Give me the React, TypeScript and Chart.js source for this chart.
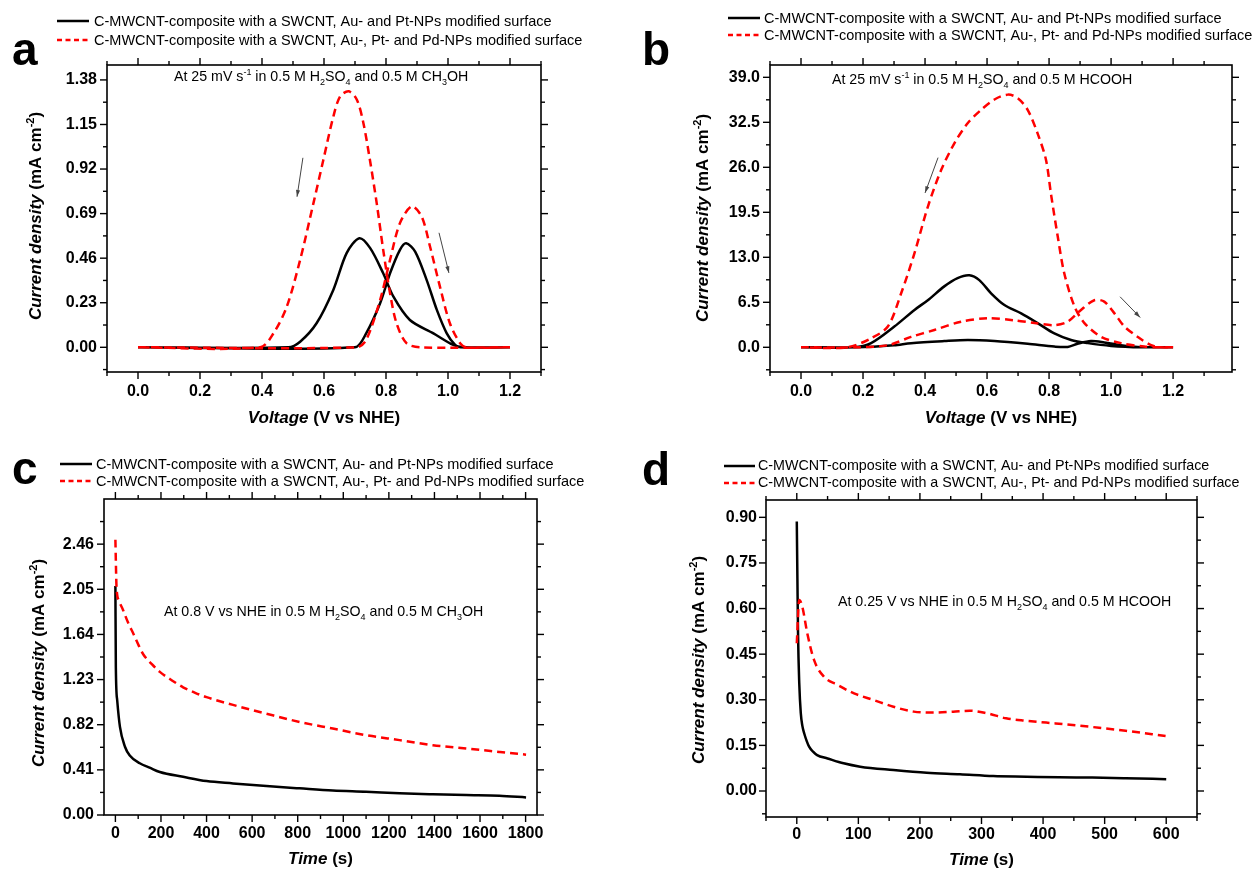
import React, { useEffect, useRef } from "react";
import { Chart, registerables } from "chart.js";
Chart.register(...registerables);

const FONT = '"Liberation Sans", Arial, Helvetica, sans-serif';
const RED = "#ff0000";
const BLACK = "#000000";

// ---------------- Panel a (CV, methanol) ----------------
const A_X_TICKS = [0, 0.2, 0.4, 0.6, 0.8, 1.0, 1.2];
const A_Y_TICKS = [0, 0.23, 0.46, 0.69, 0.92, 1.15, 1.38];
const A_BLACK_X = [0, 0.70, 0.736, 0.781, 0.813, 0.845, 0.865, 0.894, 0.931, 0.964, 0.996, 1.023, 1.04, 1.2,
  1.2, 1.05, 1.017, 0.953, 0.877, 0.824, 0.791, 0.749, 0.714, 0.673, 0.63, 0.576, 0.523, 0.485, 0];
const A_BLACK_Y = [0, 0, 0.072, 0.227, 0.382, 0.503, 0.537, 0.494, 0.348, 0.193, 0.072, 0.012, 0, 0,
  0, 0, 0.012, 0.072, 0.141, 0.261, 0.382, 0.512, 0.563, 0.486, 0.296, 0.124, 0.029, 0, 0];
const A_RED_X = [0, 0.706, 0.736, 0.781, 0.813, 0.845, 0.883, 0.915, 0.942, 0.974, 1.006, 1.039, 1.06, 1.2,
  1.2, 0.91, 0.866, 0.834, 0.813, 0.791, 0.770, 0.748, 0.727, 0.706, 0.680, 0.652, 0.63, 0.598, 0.566, 0.523, 0.48, 0.437, 0.394, 0];
const A_RED_Y = [0, 0, 0.038, 0.244, 0.451, 0.641, 0.727, 0.675, 0.520, 0.313, 0.124, 0.021, 0, 0,
  0, 0, 0.021, 0.124, 0.279, 0.503, 0.744, 0.968, 1.158, 1.278, 1.321, 1.295, 1.19, 0.968, 0.744, 0.451, 0.21, 0.072, 0, 0];

// ---------------- Panel b (CV, formic acid) ----------------
const B_X_TICKS = [0, 0.2, 0.4, 0.6, 0.8, 1.0, 1.2];
const B_Y_TICKS = [0, 6.5, 13.0, 19.5, 26.0, 32.5, 39.0];
const B_BLACK_X = [0, 0.18, 0.30, 0.355, 0.462, 0.538, 0.624, 0.731, 0.817, 0.860, 0.892, 0.935, 0.978, 1.032, 1.086, 1.2,
  1.2, 1.1, 1.0, 0.925, 0.871, 0.817, 0.763, 0.710, 0.656, 0.613, 0.575, 0.543, 0.505, 0.462, 0.409, 0.366, 0.301, 0.226, 0.17, 0];
const B_BLACK_Y = [0, 0, 0.3, 0.6, 0.9, 1.05, 0.9, 0.5, 0.1, 0.05, 0.5, 0.9, 0.7, 0.3, 0.05, 0,
  0, 0, 0.2, 0.6, 1.05, 2.0, 3.5, 4.9, 6.1, 7.8, 9.7, 10.4, 10.0, 8.8, 6.8, 5.4, 3.0, 0.6, 0, 0];
const B_RED_X = [0, 0.18, 0.28, 0.355, 0.430, 0.516, 0.602, 0.688, 0.753, 0.817, 0.860, 0.903, 0.946, 0.978, 1.011, 1.043, 1.086, 1.129, 1.16, 1.2,
  1.2, 1.15, 1.107, 1.032, 0.968, 0.914, 0.882, 0.849, 0.828, 0.806, 0.790, 0.763, 0.731, 0.699, 0.667, 0.624, 0.581, 0.538, 0.495, 0.452, 0.409, 0.366, 0.323, 0.28, 0.226, 0.15, 0];
const B_RED_Y = [0, 0, 0.3, 1.5, 2.5, 3.7, 4.2, 3.9, 3.5, 3.2, 3.7, 5.4, 6.8, 6.6, 4.9, 3.0, 1.5, 0.3, 0, 0,
  0, 0, 0.1, 0.6, 1.5, 3.5, 5.9, 10.7, 16.0, 22.2, 27.1, 30.9, 34.3, 36.0, 36.5, 35.8, 34.3, 32.4, 29.5, 25.6, 20.3, 13.6, 7.8, 3.0, 1.3, 0, 0];

// ---------------- Panel c (chronoamperometry, methanol) ----------------
const C_X_TICKS = [0, 200, 400, 600, 800, 1000, 1200, 1400, 1600, 1800];
const C_Y_TICKS = [0, 0.41, 0.82, 1.23, 1.64, 2.05, 2.46];
const C_BLACK_T = [0, 2, 8, 20, 42, 63, 107, 150, 195, 297, 400, 516, 663, 808, 954, 1100, 1247, 1393, 1539, 1685, 1802];
const C_BLACK_J = [2.08, 1.34, 1.04, 0.80, 0.62, 0.54, 0.47, 0.43, 0.39, 0.347, 0.308, 0.287, 0.263, 0.242, 0.222, 0.211, 0.197, 0.188, 0.181, 0.175, 0.160];
const C_RED_T = [0, 5, 15, 34, 55, 78, 100, 122, 160, 195, 250, 297, 350, 400, 516, 663, 808, 954, 1100, 1247, 1393, 1539, 1685, 1802];
const C_RED_J = [2.50, 2.07, 1.95, 1.86, 1.75, 1.65, 1.55, 1.46, 1.37, 1.30, 1.22, 1.16, 1.11, 1.07, 1.0, 0.92, 0.845, 0.785, 0.725, 0.68, 0.634, 0.604, 0.573, 0.548];

// ---------------- Panel d (chronoamperometry, formic acid) ----------------
const D_X_TICKS = [0, 100, 200, 300, 400, 500, 600];
const D_Y_TICKS = [0, 0.15, 0.30, 0.45, 0.60, 0.75, 0.90];
const D_BLACK_T = [0, 1, 2, 4, 6.5, 9, 12, 16, 20, 26, 33, 50, 76, 103, 157, 211, 265, 319, 373, 426, 480, 534, 600];
const D_BLACK_J = [0.886, 0.70, 0.52, 0.355, 0.256, 0.215, 0.19, 0.165, 0.146, 0.13, 0.118, 0.107, 0.091, 0.080, 0.069, 0.060, 0.055, 0.049, 0.047, 0.045, 0.044, 0.042, 0.039];
const D_RED_T = [0, 4, 9, 17, 28, 44, 66, 93, 125, 157, 190, 222, 254, 281, 308, 340, 373, 405, 448, 491, 534, 599];
const D_RED_J = [0.486, 0.628, 0.606, 0.519, 0.431, 0.376, 0.349, 0.321, 0.299, 0.277, 0.261, 0.258, 0.261, 0.264, 0.256, 0.239, 0.231, 0.225, 0.217, 0.208, 0.198, 0.181];

const LEGEND_1 = "C-MWCNT-composite with a SWCNT, Au- and Pt-NPs modified surface";
const LEGEND_2 = "C-MWCNT-composite with a SWCNT, Au-, Pt- and Pd-NPs modified surface";

type Seg = { t: string; i?: boolean; sup?: boolean; sub?: boolean };

const Y_TITLE: Seg[] = [{ t: "Current density", i: true }, { t: " (mA cm" }, { t: "-2", sup: true }, { t: ")" }];
const V_TITLE: Seg[] = [{ t: "Voltage", i: true }, { t: " (V vs NHE)" }];
const T_TITLE: Seg[] = [{ t: "Time", i: true }, { t: " (s)" }];

const NOTE_A: Seg[] = [{ t: "At 25 mV s" }, { t: "-1", sup: true }, { t: " in 0.5 M H" }, { t: "2", sub: true }, { t: "SO" }, { t: "4", sub: true }, { t: " and 0.5 M CH" }, { t: "3", sub: true }, { t: "OH" }];
const NOTE_B: Seg[] = [{ t: "At 25 mV s" }, { t: "-1", sup: true }, { t: " in 0.5 M H" }, { t: "2", sub: true }, { t: "SO" }, { t: "4", sub: true }, { t: " and 0.5 M HCOOH" }];
const NOTE_C: Seg[] = [{ t: "At 0.8 V vs NHE in 0.5 M H" }, { t: "2", sub: true }, { t: "SO" }, { t: "4", sub: true }, { t: " and 0.5 M CH" }, { t: "3", sub: true }, { t: "OH" }];
const NOTE_D: Seg[] = [{ t: "At 0.25 V vs NHE in 0.5 M H" }, { t: "2", sub: true }, { t: "SO" }, { t: "4", sub: true }, { t: " and 0.5 M HCOOH" }];

type Series = { x: number[]; y: number[]; color: string; dash: number[]; mode: "loop" | "time" };
type Panel = {
  cx: number; cy: number; cw: number; ch: number;
  area: { l: number; t: number; r: number; b: number };
  xMin: number; xMax: number; yMin: number; yMax: number;
  xTicks: number[]; yTicks: number[]; xDec: number; yDec: number;
  series: Series[];
  letter: { t: string; x: number; y: number };
  legend: { s0: number; s1: number; tx: number; y1: number; y2: number; size: number };
  note: { segs: Seg[]; x: number; y: number };
  arrows: number[][];
  xTitle: Seg[]; xTitleY: number;
  yTitleX: number; yTitleY: number;
  xPad: number; yPad: number;
};

const PANELS: Panel[] = [
  {
    cx: 0, cy: 0, cw: 630, ch: 440,
    area: { l: 107, t: 65, r: 541, b: 372 },
    xMin: -0.1, xMax: 1.3, yMin: -0.1275, yMax: 1.457,
    xTicks: A_X_TICKS, yTicks: A_Y_TICKS, xDec: 1, yDec: 2,
    series: [
      { x: A_RED_X, y: A_RED_Y, color: RED, dash: [8, 5], mode: "loop" },
      { x: A_BLACK_X, y: A_BLACK_Y, color: BLACK, dash: [], mode: "loop" },
    ],
    letter: { t: "a", x: 12, y: 65 },
    legend: { s0: 57, s1: 89, tx: 94, y1: 21, y2: 40, size: 14.5 },
    note: { segs: NOTE_A, x: 174, y: 81 },
    arrows: [[0.532, 0.978, 0.513, 0.777], [0.971, 0.591, 1.003, 0.384]],
    xTitle: V_TITLE, xTitleY: 423, yTitleX: 35, yTitleY: 216, xPad: 10, yPad: 10,
  },
  {
    cx: 630, cy: 0, cw: 630, ch: 440,
    area: { l: 770, t: 65, r: 1232, b: 372 },
    xMin: -0.1, xMax: 1.39, yMin: -3.57, yMax: 40.78,
    xTicks: B_X_TICKS, yTicks: B_Y_TICKS, xDec: 1, yDec: 1,
    series: [
      { x: B_RED_X, y: B_RED_Y, color: RED, dash: [8, 5], mode: "loop" },
      { x: B_BLACK_X, y: B_BLACK_Y, color: BLACK, dash: [], mode: "loop" },
    ],
    letter: { t: "b", x: 642, y: 65 },
    legend: { s0: 728, s1: 760, tx: 764, y1: 18, y2: 35, size: 14.5 },
    note: { segs: NOTE_B, x: 832, y: 84 },
    arrows: [[0.442, 27.4, 0.4, 22.3], [1.029, 7.3, 1.094, 4.3]],
    xTitle: V_TITLE, xTitleY: 423, yTitleX: 702, yTitleY: 218, xPad: 10, yPad: 10,
  },
  {
    cx: 0, cy: 440, cw: 630, ch: 433,
    area: { l: 104, t: 499, r: 537, b: 815 },
    xMin: -50, xMax: 1850, yMin: 0, yMax: 2.87,
    xTicks: C_X_TICKS, yTicks: C_Y_TICKS, xDec: 0, yDec: 2,
    series: [
      { x: C_RED_T, y: C_RED_J, color: RED, dash: [8, 5], mode: "time" },
      { x: C_BLACK_T, y: C_BLACK_J, color: BLACK, dash: [], mode: "time" },
    ],
    letter: { t: "c", x: 12, y: 484 },
    legend: { s0: 60, s1: 92, tx: 96, y1: 464, y2: 481, size: 14.5 },
    note: { segs: NOTE_C, x: 164, y: 616 },
    arrows: [],
    xTitle: T_TITLE, xTitleY: 864, yTitleX: 38, yTitleY: 663, xPad: 9, yPad: 10,
  },
  {
    cx: 630, cy: 440, cw: 630, ch: 433,
    area: { l: 766, t: 500, r: 1197, b: 817 },
    xMin: -50, xMax: 650, yMin: -0.0855, yMax: 0.957,
    xTicks: D_X_TICKS, yTicks: D_Y_TICKS, xDec: 0, yDec: 2,
    series: [
      { x: D_RED_T, y: D_RED_J, color: RED, dash: [8, 5], mode: "time" },
      { x: D_BLACK_T, y: D_BLACK_J, color: BLACK, dash: [], mode: "time" },
    ],
    letter: { t: "d", x: 642, y: 485 },
    legend: { s0: 724, s1: 755, tx: 758, y1: 466, y2: 483, size: 14.3 },
    note: { segs: NOTE_D, x: 838, y: 606 },
    arrows: [],
    xTitle: T_TITLE, xTitleY: 865, yTitleX: 698, yTitleY: 660, xPad: 8, yPad: 9,
  },
];

function drawRich(ctx: CanvasRenderingContext2D, segs: Seg[], x: number, y: number, size: number, bold: boolean, align: "left" | "center") {
  const fontOf = (s: Seg) =>
    `${s.i ? "italic " : ""}${bold ? "bold " : ""}${s.sup || s.sub ? Math.round(size * 0.62) : size}px ${FONT}`;
  let total = 0;
  const widths = segs.map((s) => {
    ctx.font = fontOf(s);
    const w = ctx.measureText(s.t).width;
    total += w;
    return w;
  });
  let cx = align === "center" ? x - total / 2 : x;
  ctx.textAlign = "left";
  ctx.textBaseline = "alphabetic";
  segs.forEach((s, k) => {
    ctx.font = fontOf(s);
    const dy = s.sup ? -size * 0.42 : s.sub ? size * 0.3 : 0;
    ctx.fillText(s.t, cx, y + dy);
    cx += widths[k];
  });
}

function minorTicks(major: number[], min: number, max: number): number[] {
  const step = major[1] - major[0];
  const out: number[] = [];
  const eps = step * 1e-3;
  for (let v = major[0] - step / 2; v >= min - eps; v -= step) out.push(v);
  for (let k = 0; k < 40; k++) {
    const v = major[0] + step / 2 + k * step;
    if (v > max + eps) break;
    out.push(v);
  }
  return out;
}

function makeDecor(p: Panel) {
  return {
    id: "decor",
    afterDraw(chart: any) {
      const ctx: CanvasRenderingContext2D = chart.ctx;
      const xs = chart.scales.x;
      const ys = chart.scales.y;
      const { left, right, top, bottom } = chart.chartArea;
      ctx.save();
      ctx.strokeStyle = "#000";
      ctx.fillStyle = "#000";
      ctx.setLineDash([]);
      ctx.lineWidth = 1.6;
      ctx.strokeRect(left, top, right - left, bottom - top);
      ctx.lineWidth = 1.4;
      const line = (x1: number, y1: number, x2: number, y2: number) => {
        ctx.beginPath();
        ctx.moveTo(x1, y1);
        ctx.lineTo(x2, y2);
        ctx.stroke();
      };
      const xMinors = minorTicks(p.xTicks, p.xMin, p.xMax);
      const yMinors = minorTicks(p.yTicks, p.yMin, p.yMax);
      const xSets: [number[], number][] = [[p.xTicks, 7], [xMinors, 4]];
      const ySets: [number[], number][] = [[p.yTicks, 7], [yMinors, 4]];
      xSets.forEach(([vals, len]) => {
        vals.forEach((v) => {
          const px = xs.getPixelForValue(v);
          if (px < left - 0.5 || px > right + 0.5) return;
          line(px, bottom, px, bottom + len);
          line(px, top, px, top - len);
        });
      });
      ySets.forEach(([vals, len]) => {
        vals.forEach((v) => {
          const py = ys.getPixelForValue(v);
          if (py < top - 0.5 || py > bottom + 0.5) return;
          line(left, py, left - len, py);
          line(right, py, right + len, py);
        });
      });

      const ox = p.cx;
      const oy = p.cy;
      ctx.fillStyle = "#000";
      drawRich(ctx, p.xTitle, (left + right) / 2, p.xTitleY - oy, 17, true, "center");
      ctx.save();
      ctx.translate(p.yTitleX - ox, p.yTitleY - oy);
      ctx.rotate(-Math.PI / 2);
      drawRich(ctx, Y_TITLE, 0, 6, 17, true, "center");
      ctx.restore();

      ctx.font = `bold 46px ${FONT}`;
      ctx.textAlign = "left";
      ctx.textBaseline = "alphabetic";
      ctx.fillText(p.letter.t, p.letter.x - ox, p.letter.y - oy);

      const L = p.legend;
      ctx.lineWidth = 2.5;
      ctx.strokeStyle = BLACK;
      ctx.setLineDash([]);
      line(L.s0 - ox, L.y1 - oy, L.s1 - ox, L.y1 - oy);
      ctx.strokeStyle = RED;
      ctx.setLineDash([5, 3.5]);
      line(L.s0 - ox, L.y2 - oy, L.s1 - ox, L.y2 - oy);
      ctx.setLineDash([]);
      ctx.font = `${L.size}px ${FONT}`;
      ctx.textBaseline = "middle";
      ctx.fillStyle = "#000";
      ctx.fillText(LEGEND_1, L.tx - ox, L.y1 - oy + 0.5);
      ctx.fillText(LEGEND_2, L.tx - ox, L.y2 - oy + 0.5);

      drawRich(ctx, p.note.segs, p.note.x - ox, p.note.y - oy, 14.2, false, "left");

      ctx.strokeStyle = "#444";
      ctx.fillStyle = "#444";
      ctx.lineWidth = 1;
      p.arrows.forEach(([x1, y1, x2, y2]) => {
        const a1 = xs.getPixelForValue(x1), b1 = ys.getPixelForValue(y1);
        const a2 = xs.getPixelForValue(x2), b2 = ys.getPixelForValue(y2);
        line(a1, b1, a2, b2);
        const ang = Math.atan2(b2 - b1, a2 - a1);
        const hl = 7, hw = 0.3;
        ctx.beginPath();
        ctx.moveTo(a2, b2);
        ctx.lineTo(a2 - hl * Math.cos(ang - hw), b2 - hl * Math.sin(ang - hw));
        ctx.lineTo(a2 - hl * Math.cos(ang + hw), b2 - hl * Math.sin(ang + hw));
        ctx.closePath();
        ctx.fill();
      });
      ctx.restore();
    },
  };
}

function buildConfig(p: Panel): any {
  const datasets = p.series.map((s, k) => ({
    data: s.x.map((xv, j) => ({ x: xv, y: s.y[j] })),
    borderColor: s.color,
    backgroundColor: s.color,
    borderWidth: 2.5,
    borderDash: s.dash,
    pointRadius: 0,
    showLine: true,
    fill: false,
    order: k,
    tension: s.mode === "loop" ? 0.3 : 0,
    cubicInterpolationMode: s.mode === "time" ? "monotone" : "default",
  }));
  const tickFont = { family: FONT, size: 16, weight: "bold" as const };
  const yAxisW = p.area.l - p.cx;
  const xAxisH = p.cy + p.ch - p.area.b;
  return {
    type: "scatter",
    data: { datasets },
    options: {
      animation: false,
      responsive: false,
      maintainAspectRatio: false,
      events: [],
      layout: {
        padding: {
          left: 0,
          top: p.area.t - p.cy,
          right: p.cx + p.cw - p.area.r,
          bottom: 0,
        },
      },
      plugins: { legend: { display: false }, tooltip: { enabled: false }, title: { display: false } },
      scales: {
        x: {
          type: "linear",
          position: "bottom",
          min: p.xMin,
          max: p.xMax,
          grid: { display: false, drawTicks: false },
          border: { display: false },
          afterBuildTicks: (s: any) => {
            s.ticks = p.xTicks.map((v) => ({ value: v }));
          },
          afterFit: (s: any) => {
            s.height = xAxisH;
          },
          ticks: {
            font: tickFont,
            color: "#000",
            padding: p.xPad,
            autoSkip: false,
            maxRotation: 0,
            minRotation: 0,
            callback: (v: any) => Number(v).toFixed(p.xDec),
          },
        },
        y: {
          type: "linear",
          position: "left",
          min: p.yMin,
          max: p.yMax,
          grid: { display: false, drawTicks: false },
          border: { display: false },
          afterBuildTicks: (s: any) => {
            s.ticks = p.yTicks.map((v) => ({ value: v }));
          },
          afterFit: (s: any) => {
            s.width = yAxisW;
          },
          ticks: {
            font: tickFont,
            color: "#000",
            padding: p.yPad,
            autoSkip: false,
            callback: (v: any) => Number(v).toFixed(p.yDec),
          },
        },
      },
    },
    plugins: [makeDecor(p)],
  };
}

function PanelChart({ p }: { p: Panel }) {
  const ref = useRef<HTMLCanvasElement>(null);
  useEffect(() => {
    const chart = new Chart(ref.current as HTMLCanvasElement, buildConfig(p));
    return () => chart.destroy();
  }, [p]);
  return (
    <canvas
      ref={ref}
      width={p.cw}
      height={p.ch}
      style={{ position: "absolute", left: p.cx, top: p.cy, width: p.cw, height: p.ch, display: "block" }}
    />
  );
}

export default function App() {
  return (
    <div style={{ position: "absolute", left: 0, top: 0, width: 1260, height: 873, background: "#fff", overflow: "hidden" }}>
      {PANELS.map((p, k) => (
        <PanelChart key={k} p={p} />
      ))}
    </div>
  );
}
